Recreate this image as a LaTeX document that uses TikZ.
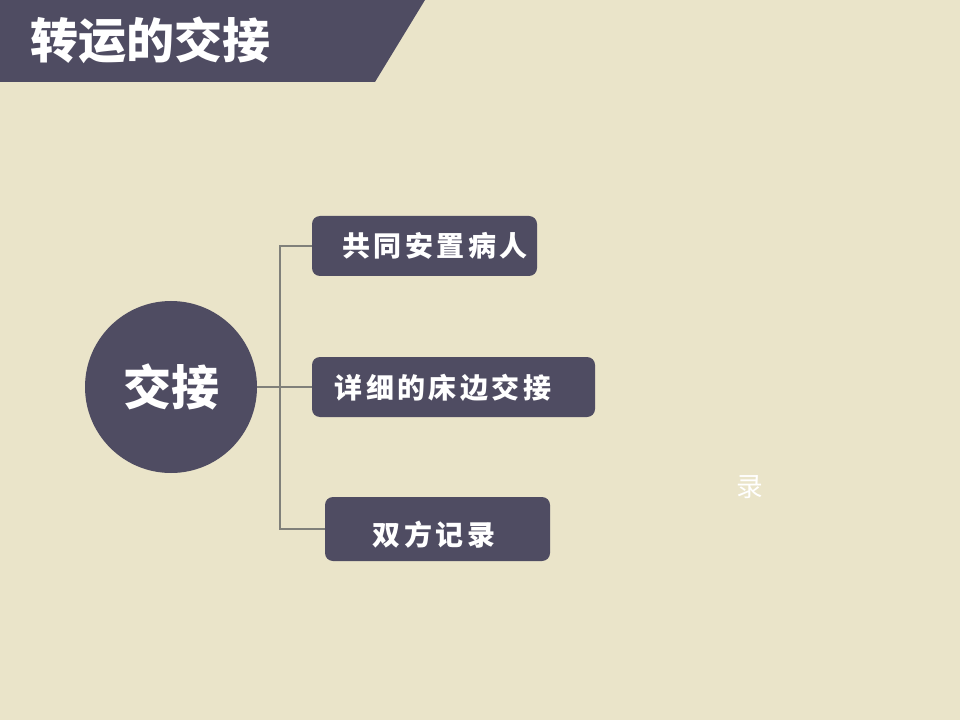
\documentclass[tikz,border=0pt]{standalone}
\usepackage{fontspec}
\usepackage{tikz}
\usetikzlibrary{positioning}
\newfontfamily\cjk{Noto Sans CJK SC}
\definecolor{paper}{HTML}{EAE4C9}
\definecolor{slate}{HTML}{4F4C62}
\definecolor{linegray}{HTML}{80807A}

\begin{document}
\begin{tikzpicture}[
  x=0.75pt, y=-0.75pt,
  hubnode/.style={circle,fill=slate,minimum size=172*0.75pt,inner sep=0pt,
    text=white,font=\cjk\bfseries\fontsize{36}{36}\selectfont},
  itembox/.style={rectangle,rounded corners=6pt,fill=slate,minimum height=45pt,inner sep=0pt},
  itemtext/.style={text=white,inner sep=0pt,
    font=\cjk\bfseries\fontsize{21}{21}\selectfont\addfontfeature{LetterSpace=12}},
  ]
  \tikzset{%
    spoke/.style={
      draw=linegray,
      line width=1.5pt,
    },
  }
  %Background
  \useasboundingbox[fill=paper] (0,0) rectangle (960,720);
  \fill[slate] (0,0) -- (425,0) -- (375,82) -- (0,82) -- cycle;
  %Nodes
  \node[text=white,font=\cjk\bfseries\fontsize{36}{36}\selectfont](title) at (150,40){转运的交接};
  \node[hubnode](hub) at (171,387){交接};
  \node[itembox,minimum width=225*0.75pt](care) at (424.5,246){};
  \node[itembox,minimum width=283*0.75pt](bedside) at (453.5,387){};
  \node[itembox,minimum width=225*0.75pt,minimum height=48pt](record) at (437.5,529){};
  \node[itemtext](caretext) at (435,246){共同安置病人};
  \node[itemtext](bedsidetext) at (443,388){详细的床边交接};
  \node[itemtext](recordtext) at (434,535){双方记录};
  \node[text=white,font=\cjk\fontsize{20}{20}\selectfont](stray) at (750,487){录};
  \coordinate (spine) at (280,387);
  %Lines
  \draw[spoke]
    (hub.east) -- (bedside.west)
    (spine) |- (care.west)
    (spine) |- (record.west)
    ;
\end{tikzpicture}
\end{document}
